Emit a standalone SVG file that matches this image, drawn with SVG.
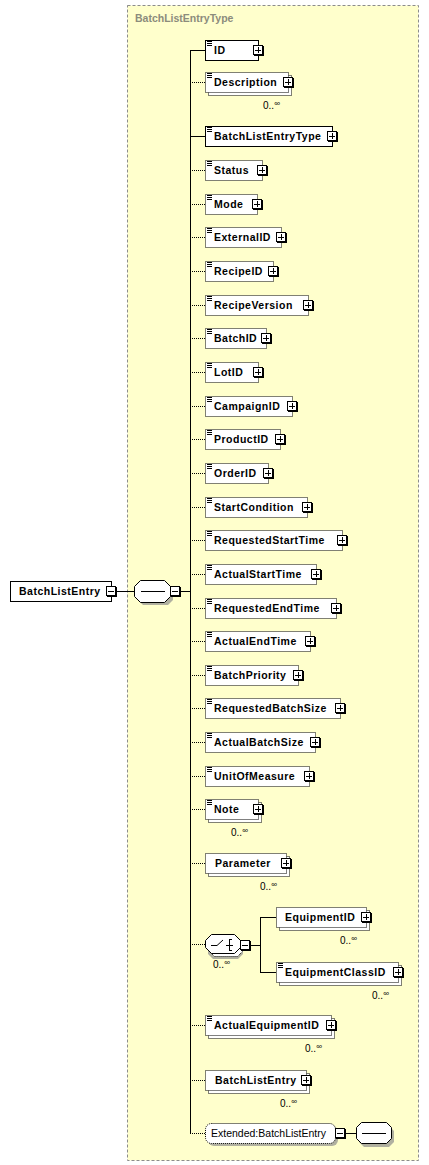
<svg xmlns="http://www.w3.org/2000/svg" xmlns:xlink="http://www.w3.org/1999/xlink" width="429" height="1165" viewBox="0 0 429 1165">
<style>
.bg{fill:#ffffcc;stroke:#8c8c8c;stroke-dasharray:3,2}
.ttl{font-family:"Liberation Sans",Arial,sans-serif;font-weight:bold;font-size:10.5px;fill:#8c8c7c}
.s{fill:#fff;stroke:#000;stroke-width:1}
.d{fill:#fff;stroke:#000;stroke-width:1;stroke-dasharray:1,1}
.t{font-family:"Liberation Sans",Arial,sans-serif;font-weight:bold;font-size:10.5px;letter-spacing:0.5px;fill:#000}
.r{font-family:"Liberation Sans",Arial,sans-serif;font-size:10.5px;fill:#000}
.m{font-family:"Liberation Sans",Arial,sans-serif;font-size:10px;fill:#000}
.ln{stroke:#000;stroke-width:1;fill:none}
.dl{stroke:#000;stroke-width:1;fill:none;stroke-dasharray:1,1}
.sh{fill:#b0b0a0}
</style>
<defs>
<g id="plus"><rect x="1" y="1" width="10" height="10" fill="#000"/><rect x="0.5" y="0.5" width="9" height="9" fill="#fff" stroke="#000"/><path d="M2 5.5H8M5.5 2V8" stroke="#000"/></g>
<g id="minus"><rect x="1" y="1" width="10" height="10" fill="#000"/><rect x="0.5" y="0.5" width="9" height="9" fill="#fff" stroke="#000"/><path d="M2 5.5H8" stroke="#000"/></g>
<g id="ico"><path d="M2 1.5H7M2 3.5H7M2 5.5H7" stroke="#000"/></g>
</defs>

<g id="type-box">
<rect class="bg" x="127.5" y="5.5" width="291" height="1155"/>
<text class="ttl" x="135" y="22">BatchListEntryType</text>
</g>

<g id="connectors">
<path class="ln" d="M190.5 50.5V1133.5"/>
<path class="ln" d="M116 591.5H135M180 591.5H190"/>
<path class="ln" d="M190 50.5H205M190 136.5H205"/>
<path class="dl" d="M190 82.5H205M190 170.5H205M190 204.5H205M190 237.5H205M190 271.5H205M190 305.5H205M190 338.5H205M190 372.5H205M190 406.5H205M190 439.5H205M190 473.5H205M190 507.5H205M190 540.5H205M190 574.5H205M190 608.5H205M190 641.5H205M190 675.5H205M190 708.5H205M190 742.5H205M190 776.5H205M190 809.5H205M190 863.5H205M190 944.5H205M190 1025.5H205M190 1080.5H205M190 1133.5H205"/>
<path class="ln" d="M251 945.5H260.5M260.5 917.5V972.5M260 917.5H276M260 972.5H276"/>
<path class="ln" d="M346 1133.5H356"/>
</g>

<g id="root-BatchListEntry">
<rect class="s" x="10.5" y="581.5" width="101" height="20"/>
<text class="t" x="19" y="595">BatchListEntry</text>
<use xlink:href="#minus" x="106" y="586"/>
</g>

<g id="root-sequence">
<polygon class="sh" points="143,584 168,584 173,589 173,600 168,605 143,605 138,600 138,589"/>
<polygon class="s" points="140.5,580.5 164.5,580.5 170.5,586.5 170.5,596.5 164.5,602.5 140.5,602.5 134.5,596.5 134.5,586.5"/>
<path class="ln" d="M141 591.5H165"/>
<use xlink:href="#minus" x="170" y="586"/>
</g>

<g id="n-ID"><rect class="s" x="205.5" y="40.5" width="53" height="20"/><use xlink:href="#ico" x="205" y="40"/><text class="t" x="214" y="54">ID</text><use xlink:href="#plus" x="253" y="45"/></g>

<g id="n-Description"><rect class="d" x="208.5" y="75.5" width="83" height="20"/><rect class="d" x="205.5" y="72.5" width="83" height="20"/><use xlink:href="#ico" x="205" y="72"/><text class="t" x="214" y="86">Description</text><use xlink:href="#plus" x="283" y="77"/><text class="m" x="263" y="109">0..<tspan font-size="8" dy="-3">∞</tspan></text></g>

<g id="n-BatchListEntryType"><rect class="s" x="205.5" y="126.5" width="127" height="20"/><use xlink:href="#ico" x="205" y="126"/><text class="t" x="214" y="140">BatchListEntryType</text><use xlink:href="#plus" x="327" y="131"/></g>

<g id="n-Status"><rect class="d" x="205.5" y="160.5" width="57" height="20"/><use xlink:href="#ico" x="205" y="160"/><text class="t" x="214" y="174">Status</text><use xlink:href="#plus" x="257" y="165"/></g>

<g id="n-Mode"><rect class="d" x="205.5" y="194.5" width="52" height="20"/><use xlink:href="#ico" x="205" y="194"/><text class="t" x="214" y="208">Mode</text><use xlink:href="#plus" x="252" y="199"/></g>

<g id="n-ExternalID"><rect class="d" x="205.5" y="227.5" width="76" height="20"/><use xlink:href="#ico" x="205" y="227"/><text class="t" x="214" y="241">ExternalID</text><use xlink:href="#plus" x="276" y="232"/></g>

<g id="n-RecipeID"><rect class="d" x="205.5" y="261.5" width="68" height="20"/><use xlink:href="#ico" x="205" y="261"/><text class="t" x="214" y="275">RecipeID</text><use xlink:href="#plus" x="268" y="266"/></g>

<g id="n-RecipeVersion"><rect class="d" x="205.5" y="295.5" width="103" height="20"/><use xlink:href="#ico" x="205" y="295"/><text class="t" x="214" y="309">RecipeVersion</text><use xlink:href="#plus" x="303" y="300"/></g>

<g id="n-BatchID"><rect class="d" x="205.5" y="328.5" width="61" height="20"/><use xlink:href="#ico" x="205" y="328"/><text class="t" x="214" y="342">BatchID</text><use xlink:href="#plus" x="261" y="333"/></g>

<g id="n-LotID"><rect class="d" x="205.5" y="362.5" width="53" height="20"/><use xlink:href="#ico" x="205" y="362"/><text class="t" x="214" y="376">LotID</text><use xlink:href="#plus" x="253" y="367"/></g>

<g id="n-CampaignID"><rect class="d" x="205.5" y="396.5" width="87" height="20"/><use xlink:href="#ico" x="205" y="396"/><text class="t" x="214" y="410">CampaignID</text><use xlink:href="#plus" x="287" y="401"/></g>

<g id="n-ProductID"><rect class="d" x="205.5" y="429.5" width="75" height="20"/><use xlink:href="#ico" x="205" y="429"/><text class="t" x="214" y="443">ProductID</text><use xlink:href="#plus" x="275" y="434"/></g>

<g id="n-OrderID"><rect class="d" x="205.5" y="463.5" width="63" height="20"/><use xlink:href="#ico" x="205" y="463"/><text class="t" x="214" y="477">OrderID</text><use xlink:href="#plus" x="263" y="468"/></g>

<g id="n-StartCondition"><rect class="d" x="205.5" y="497.5" width="102" height="20"/><use xlink:href="#ico" x="205" y="497"/><text class="t" x="214" y="511">StartCondition</text><use xlink:href="#plus" x="302" y="502"/></g>

<g id="n-RequestedStartTime"><rect class="d" x="205.5" y="530.5" width="137" height="20"/><use xlink:href="#ico" x="205" y="530"/><text class="t" x="214" y="544">RequestedStartTime</text><use xlink:href="#plus" x="337" y="535"/></g>

<g id="n-ActualStartTime"><rect class="d" x="205.5" y="564.5" width="111" height="20"/><use xlink:href="#ico" x="205" y="564"/><text class="t" x="214" y="578">ActualStartTime</text><use xlink:href="#plus" x="311" y="569"/></g>

<g id="n-RequestedEndTime"><rect class="d" x="205.5" y="598.5" width="131" height="20"/><use xlink:href="#ico" x="205" y="598"/><text class="t" x="214" y="612">RequestedEndTime</text><use xlink:href="#plus" x="331" y="603"/></g>

<g id="n-ActualEndTime"><rect class="d" x="205.5" y="631.5" width="105" height="20"/><use xlink:href="#ico" x="205" y="631"/><text class="t" x="214" y="645">ActualEndTime</text><use xlink:href="#plus" x="305" y="636"/></g>

<g id="n-BatchPriority"><rect class="d" x="205.5" y="665.5" width="93" height="20"/><use xlink:href="#ico" x="205" y="665"/><text class="t" x="214" y="679">BatchPriority</text><use xlink:href="#plus" x="293" y="670"/></g>

<g id="n-RequestedBatchSize"><rect class="d" x="205.5" y="698.5" width="135" height="20"/><use xlink:href="#ico" x="205" y="698"/><text class="t" x="214" y="712">RequestedBatchSize</text><use xlink:href="#plus" x="335" y="703"/></g>

<g id="n-ActualBatchSize"><rect class="d" x="205.5" y="732.5" width="110" height="20"/><use xlink:href="#ico" x="205" y="732"/><text class="t" x="214" y="746">ActualBatchSize</text><use xlink:href="#plus" x="310" y="737"/></g>

<g id="n-UnitOfMeasure"><rect class="d" x="205.5" y="766.5" width="104" height="20"/><use xlink:href="#ico" x="205" y="766"/><text class="t" x="214" y="780">UnitOfMeasure</text><use xlink:href="#plus" x="304" y="771"/></g>

<g id="n-Note"><rect class="d" x="208.5" y="802.5" width="53" height="20"/><rect class="d" x="205.5" y="799.5" width="53" height="20"/><use xlink:href="#ico" x="205" y="799"/><text class="t" x="214" y="813">Note</text><use xlink:href="#plus" x="253" y="804"/><text class="m" x="231" y="836">0..<tspan font-size="8" dy="-3">∞</tspan></text></g>

<g id="n-Parameter"><rect class="d" x="208.5" y="856.5" width="81" height="20"/><rect class="d" x="205.5" y="853.5" width="81" height="20"/><text class="t" x="215" y="867">Parameter</text><use xlink:href="#plus" x="281" y="858"/><text class="m" x="260" y="890">0..<tspan font-size="8" dy="-3">∞</tspan></text></g>

<g id="n-choice">
<polygon class="sh" points="213,940 238,940 243,945 243,954 238,959 213,959 208,954 208,945"/>
<polygon class="d" points="214.5,937.5 237.5,937.5 243.5,943.5 243.5,950.5 237.5,956.5 214.5,956.5 208.5,950.5 208.5,943.5"/>
<polygon class="s" points="211.5,934.5 234.5,934.5 240.5,940.5 240.5,947.5 234.5,953.5 211.5,953.5 205.5,947.5 205.5,940.5"/>
<path class="ln" d="M211 945.5H217L223 940M229.5 939V951M226 945.5H233M229 939.5H232M229 950.5H232"/>
<use xlink:href="#minus" x="240" y="940"/>
<text class="m" x="213" y="968">0..<tspan font-size="8" dy="-3">∞</tspan></text>
</g>

<g id="n-EquipmentID"><rect class="d" x="279.5" y="910.5" width="90" height="20"/><rect class="d" x="276.5" y="907.5" width="90" height="20"/><text class="t" x="285" y="921">EquipmentID</text><use xlink:href="#plus" x="361" y="912"/><text class="m" x="340" y="944">0..<tspan font-size="8" dy="-3">∞</tspan></text></g>

<g id="n-EquipmentClassID"><rect class="d" x="279.5" y="965.5" width="122" height="20"/><rect class="d" x="276.5" y="962.5" width="122" height="20"/><use xlink:href="#ico" x="276" y="962"/><text class="t" x="285" y="976">EquipmentClassID</text><use xlink:href="#plus" x="393" y="967"/><text class="m" x="372" y="999">0..<tspan font-size="8" dy="-3">∞</tspan></text></g>

<g id="n-ActualEquipmentID"><rect class="d" x="208.5" y="1018.5" width="126" height="20"/><rect class="d" x="205.5" y="1015.5" width="126" height="20"/><use xlink:href="#ico" x="205" y="1015"/><text class="t" x="214" y="1029">ActualEquipmentID</text><use xlink:href="#plus" x="326" y="1020"/><text class="m" x="305" y="1052">0..<tspan font-size="8" dy="-3">∞</tspan></text></g>

<g id="n-BatchListEntry"><rect class="d" x="208.5" y="1073.5" width="101" height="20"/><rect class="d" x="205.5" y="1070.5" width="101" height="20"/><text class="t" x="215" y="1084">BatchListEntry</text><use xlink:href="#plus" x="301" y="1075"/><text class="m" x="280" y="1107">0..<tspan font-size="8" dy="-3">∞</tspan></text></g>

<g id="n-Extended">
<rect class="sh" x="208" y="1126" width="130" height="20" rx="6"/>
<rect class="d" x="205.5" y="1123.5" width="130" height="20" rx="6"/>
<text class="r" x="211" y="1137">Extended:BatchListEntry</text>
<use xlink:href="#minus" x="335" y="1128"/>
</g>

<g id="ext-sequence">
<polygon class="sh" points="364,1126 389,1126 394,1131 394,1142 389,1147 364,1147 359,1142 359,1131"/>
<polygon class="s" points="361.5,1122.5 386.5,1122.5 391.5,1127.5 391.5,1138.5 386.5,1143.5 361.5,1143.5 356.5,1138.5 356.5,1127.5"/>
<path class="ln" d="M362 1133.5H386"/>
</g>
</svg>
